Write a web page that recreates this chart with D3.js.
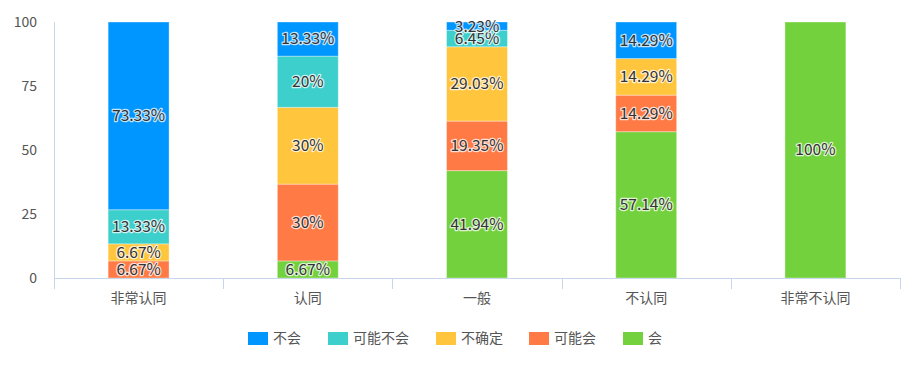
<!DOCTYPE html>
<html><head><meta charset="utf-8">
<script src="https://cdn.jsdelivr.net/npm/d3@7"></script>
<style>body{margin:0;background:#fff;}svg{display:block;font-family:"Microsoft YaHei","Noto Sans CJK SC",sans-serif;}</style>
</head><body>
<svg id="c" width="918" height="375"></svg>
<script>
const categories = ["非常认同","认同","一般","不认同","非常不认同"];
const seriesNames = ["不会","可能不会","不确定","可能会","会"];
const colors = ["#0096FF","#3CCFCB","#FFC53D","#FF7A45","#73D13D"];
// values per series, aligned with categories
const buhui      = [73.33, 13.33, 3.23, 14.29, 0];
const kenengbuhui= [13.33, 20, 6.45, 0, 0];
const buqueding  = [6.67, 30, 29.03, 14.29, 0];
const kenenghui  = [6.67, 30, 19.35, 14.29, 0];
const hui        = [0, 6.67, 41.94, 57.14, 100];
const yTicks = [0,25,50,75,100];

const seriesVals = [buhui, kenengbuhui, buqueding, kenenghui, hui];
const svg = d3.select("#c");
const m = {l:54, r:18, t:22, b:97};
const W = 918, H = 375;
const x = d3.scaleBand().domain(categories).range([m.l, W-m.r]).paddingInner(0).paddingOuter(0);
const y = d3.scaleLinear().domain([0,100]).range([H-m.b, m.t]).clamp(true);

// stack bottom-to-top: 会, 可能会, 不确定, 可能不会, 不会
const order = [4,3,2,1,0];
const table = categories.map((c,i)=>{const o={cat:c}; seriesNames.forEach((s,j)=>o[s]=seriesVals[j][i]); return o;});
const stack = d3.stack().keys(order.map(j=>seriesNames[j]))(table);

const axisColor = "#c9d5e8";
svg.append("line").attr("x1",m.l+0.5).attr("x2",m.l+0.5).attr("y1",m.t).attr("y2",y(0)).attr("stroke",axisColor);
svg.append("g").selectAll("text").data(yTicks).join("text")
  .attr("x",37).attr("y",d=>y(d)).attr("dy","0.35em").attr("text-anchor","end")
  .attr("font-size",14).attr("fill","#555").text(d=>d);

const bw = x.bandwidth()*0.36;
const g = svg.append("g");
stack.forEach(layer=>{
  const j = seriesNames.indexOf(layer.key);
  g.append("g").selectAll("rect").data(layer).join("rect")
    .attr("x",d=>x(d.data.cat)+x.bandwidth()/2-bw/2)
    .attr("width",bw)
    .attr("y",d=>y(d[1]))
    .attr("height",d=>y(d[0])-y(d[1]))
    .attr("fill",colors[j])
    .attr("stroke","rgba(255,255,255,0.35)").attr("stroke-width",1);
});
svg.append("line").attr("x1",m.l).attr("x2",W-m.r).attr("y1",y(0)+0.5).attr("y2",y(0)+0.5).attr("stroke",axisColor);
const tickXs = categories.map(c=>x(c)).concat([W-m.r]);
svg.append("g").selectAll("line").data(tickXs).join("line")
  .attr("x1",d=>Math.round(d)+0.5).attr("x2",d=>Math.round(d)+0.5).attr("y1",y(0)).attr("y2",y(0)+11).attr("stroke",axisColor);
svg.append("g").selectAll("text").data(categories).join("text")
  .attr("x",d=>x(d)+x.bandwidth()/2).attr("y",y(0)+20).attr("dy","0.35em").attr("text-anchor","middle")
  .attr("font-size",14).attr("fill","#555").text(d=>d);

// labels with white halo
const lg = svg.append("g");
stack.forEach(layer=>{
  layer.forEach(d=>{
    const v = d.data[layer.key];
    if(v<=0) return;
    lg.append("text")
      .attr("x",x(d.data.cat)+x.bandwidth()/2).attr("y",(y(d[0])+y(d[1]))/2).attr("dy","0.35em")
      .attr("text-anchor","middle").attr("font-size",15.5).attr("fill","#333")
      .attr("stroke","rgba(255,255,255,0.75)").attr("stroke-width",2.5).attr("stroke-linejoin","round")
      .attr("paint-order","stroke")
      .text(v+"%");
  });
});

// legend
const legX = [248,328,436,529,623];
const lgd = svg.append("g");
seriesNames.forEach((s,j)=>{
  lgd.append("rect").attr("x",legX[j]).attr("y",332).attr("width",20).attr("height",13).attr("fill",colors[j]);
  lgd.append("text").attr("x",legX[j]+25).attr("y",338.5).attr("dy","0.35em").attr("font-size",14).attr("fill","#555").text(s);
});
</script>
</body></html>
